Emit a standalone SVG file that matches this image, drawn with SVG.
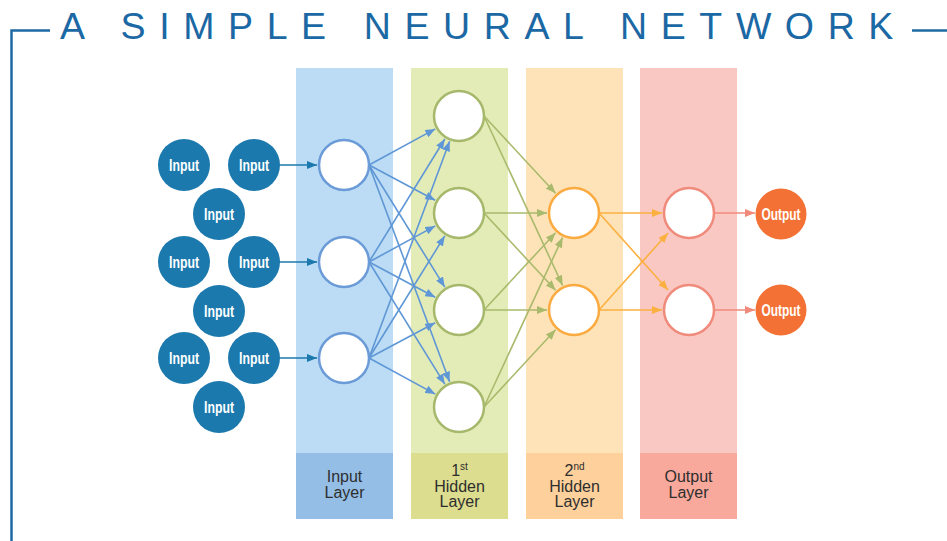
<svg xmlns="http://www.w3.org/2000/svg" width="947" height="541" viewBox="0 0 947 541">
  <style>
    .title { font-family: "Liberation Sans", Arial, sans-serif; font-size: 37.5px; fill: #1b68a4; letter-spacing: 13.6px; }
    .frame { fill: none; stroke: #1f6aa5; stroke-width: 2.5; }
    .lbl { font-family: "Liberation Sans", Arial, sans-serif; font-size: 16px; fill: #2e2e2e; text-anchor: middle; }
    .sup { font-size: 10px; }
    .in { fill: #1b79ad; }
    .out { fill: #f37134; }
    .badge { font-family: "Liberation Sans", Arial, sans-serif; font-size: 16px; font-weight: bold; fill: #ffffff; text-anchor: middle; }
    .n { fill: #ffffff; stroke-width: 2.5; }
    .n-in { stroke: #6a9bd8; }
    .n-h1 { stroke: #a6b86b; }
    .n-h2 { stroke: #fbaa3f; }
    .n-out { stroke: #f08a7b; }
    .c { fill: none; stroke-width: 1.6; }
    .c-src { stroke: #1b79ad; marker-end: url(#ah-src); }
    .c-in { stroke: #5f97d6; marker-end: url(#ah-in); }
    .c-h1 { stroke: #a9ba6c; marker-end: url(#ah-h1); }
    .c-h2 { stroke: #fbb040; marker-end: url(#ah-h2); }
    .c-out { stroke: #f08a7b; marker-end: url(#ah-out); }
  </style>
  <defs>
    <marker id="ah-src" viewBox="0 0 10 8" refX="10" refY="4" markerWidth="10" markerHeight="8" markerUnits="userSpaceOnUse" orient="auto"><path d="M0,0 L10,4 L0,8 z" fill="#1b79ad"/></marker>
    <marker id="ah-in" viewBox="0 0 10 8" refX="10" refY="4" markerWidth="10" markerHeight="8" markerUnits="userSpaceOnUse" orient="auto"><path d="M0,0 L10,4 L0,8 z" fill="#5f97d6"/></marker>
    <marker id="ah-h1" viewBox="0 0 10 8" refX="10" refY="4" markerWidth="10" markerHeight="8" markerUnits="userSpaceOnUse" orient="auto"><path d="M0,0 L10,4 L0,8 z" fill="#a9ba6c"/></marker>
    <marker id="ah-h2" viewBox="0 0 10 8" refX="10" refY="4" markerWidth="10" markerHeight="8" markerUnits="userSpaceOnUse" orient="auto"><path d="M0,0 L10,4 L0,8 z" fill="#fbb040"/></marker>
    <marker id="ah-out" viewBox="0 0 10 8" refX="10" refY="4" markerWidth="10" markerHeight="8" markerUnits="userSpaceOnUse" orient="auto"><path d="M0,0 L10,4 L0,8 z" fill="#f08a7b"/></marker>
  </defs>

  <rect width="947" height="541" fill="#ffffff"/>

  <!-- heading and frame -->
  <g id="heading">
    <path class="frame" d="M50,30.5 H11.5 V541"/>
    <path class="frame" d="M912,30.5 H947"/>
    <text class="title" x="60" y="39">A SIMPLE NEURAL NETWORK</text>
  </g>

  <!-- layer columns -->
  <g id="layer-input">
    <rect x="296" y="68" width="97" height="385" fill="#bbdcf4"/>
    <rect x="296" y="453" width="97" height="66" fill="#94bee6"/>
    <text class="lbl" x="344.5" y="482">Input</text>
    <text class="lbl" x="344.5" y="498">Layer</text>
  </g>
  <g id="layer-hidden1">
    <rect x="411" y="68" width="97" height="385" fill="#e3ecb7"/>
    <rect x="411" y="453" width="97" height="66" fill="#dcdd8e"/>
    <text class="lbl" x="459.5" y="475.5">1<tspan class="sup" dy="-6">st</tspan></text>
    <text class="lbl" x="459.5" y="491.5">Hidden</text>
    <text class="lbl" x="459.5" y="507">Layer</text>
  </g>
  <g id="layer-hidden2">
    <rect x="526" y="68" width="97" height="385" fill="#fee3b8"/>
    <rect x="526" y="453" width="97" height="66" fill="#fed09b"/>
    <text class="lbl" x="574.5" y="475.5">2<tspan class="sup" dy="-6">nd</tspan></text>
    <text class="lbl" x="574.5" y="491.5">Hidden</text>
    <text class="lbl" x="574.5" y="507">Layer</text>
  </g>
  <g id="layer-output">
    <rect x="640" y="68" width="97" height="385" fill="#f9c8c3"/>
    <rect x="640" y="453" width="97" height="66" fill="#f8a99c"/>
    <text class="lbl" x="688.5" y="482">Output</text>
    <text class="lbl" x="688.5" y="498">Layer</text>
  </g>

  <!-- connectors -->
  <g id="connectors">
    <line class="c c-src" x1="279" y1="165" x2="317" y2="165"/>
    <line class="c c-src" x1="279" y1="262" x2="317" y2="262"/>
    <line class="c c-src" x1="279" y1="358" x2="317" y2="358"/>

    <line class="c c-in" x1="369" y1="165" x2="435.3" y2="128.9"/>
    <line class="c c-in" x1="369" y1="165" x2="435.2" y2="200.3"/>
    <line class="c c-in" x1="369" y1="165" x2="444.8" y2="287.1"/>
    <line class="c c-in" x1="369" y1="165" x2="449.6" y2="381.7"/>
    <line class="c c-in" x1="369" y1="262" x2="444.8" y2="139.0"/>
    <line class="c c-in" x1="369" y1="262" x2="435.3" y2="225.9"/>
    <line class="c c-in" x1="369" y1="262" x2="435.2" y2="297.3"/>
    <line class="c c-in" x1="369" y1="262" x2="444.8" y2="384.1"/>
    <line class="c c-in" x1="369" y1="358" x2="449.6" y2="141.3"/>
    <line class="c c-in" x1="369" y1="358" x2="444.8" y2="235.9"/>
    <line class="c c-in" x1="369" y1="358" x2="435.2" y2="322.7"/>
    <line class="c c-in" x1="369" y1="358" x2="435.3" y2="394.1"/>

    <line class="c c-h1" x1="484" y1="116" x2="555.6" y2="193.2"/>
    <line class="c c-h1" x1="484" y1="116" x2="562.6" y2="285.5"/>
    <line class="c c-h1" x1="484" y1="213" x2="547" y2="213"/>
    <line class="c c-h1" x1="484" y1="213" x2="555.6" y2="290.2"/>
    <line class="c c-h1" x1="484" y1="310" x2="555.6" y2="232.8"/>
    <line class="c c-h1" x1="484" y1="310" x2="547" y2="310"/>
    <line class="c c-h1" x1="484" y1="407" x2="562.6" y2="237.5"/>
    <line class="c c-h1" x1="484" y1="407" x2="555.6" y2="329.8"/>

    <line class="c c-h2" x1="599" y1="213" x2="662" y2="213"/>
    <line class="c c-h2" x1="599" y1="213" x2="668" y2="290"/>
    <line class="c c-h2" x1="599" y1="310" x2="668" y2="233"/>
    <line class="c c-h2" x1="599" y1="310" x2="662" y2="310"/>

    <line class="c c-out" x1="715" y1="213" x2="755" y2="213"/>
    <line class="c c-out" x1="715" y1="310" x2="755" y2="310"/>
  </g>

  <!-- source badges -->
  <g id="src-1"><circle class="in" cx="184" cy="165" r="26"/><text class="badge" x="184" y="170.5" textLength="30" lengthAdjust="spacingAndGlyphs">Input</text></g>
  <g id="src-2"><circle class="in" cx="254" cy="165" r="26"/><text class="badge" x="254" y="170.5" textLength="30" lengthAdjust="spacingAndGlyphs">Input</text></g>
  <g id="src-3"><circle class="in" cx="219" cy="214" r="26"/><text class="badge" x="219" y="219.5" textLength="30" lengthAdjust="spacingAndGlyphs">Input</text></g>
  <g id="src-4"><circle class="in" cx="184" cy="262" r="26"/><text class="badge" x="184" y="267.5" textLength="30" lengthAdjust="spacingAndGlyphs">Input</text></g>
  <g id="src-5"><circle class="in" cx="254" cy="262" r="26"/><text class="badge" x="254" y="267.5" textLength="30" lengthAdjust="spacingAndGlyphs">Input</text></g>
  <g id="src-6"><circle class="in" cx="219" cy="311" r="26"/><text class="badge" x="219" y="316.5" textLength="30" lengthAdjust="spacingAndGlyphs">Input</text></g>
  <g id="src-7"><circle class="in" cx="184" cy="358" r="26"/><text class="badge" x="184" y="363.5" textLength="30" lengthAdjust="spacingAndGlyphs">Input</text></g>
  <g id="src-8"><circle class="in" cx="254" cy="358" r="26"/><text class="badge" x="254" y="363.5" textLength="30" lengthAdjust="spacingAndGlyphs">Input</text></g>
  <g id="src-9"><circle class="in" cx="219" cy="407" r="26"/><text class="badge" x="219" y="412.5" textLength="30" lengthAdjust="spacingAndGlyphs">Input</text></g>

  <!-- input layer neurons -->
  <g id="in-1"><circle class="n n-in" cx="344" cy="165" r="25"/></g>
  <g id="in-2"><circle class="n n-in" cx="344" cy="262" r="25"/></g>
  <g id="in-3"><circle class="n n-in" cx="344" cy="358" r="25"/></g>

  <!-- first hidden layer neurons -->
  <g id="h1-1"><circle class="n n-h1" cx="459" cy="116" r="25"/></g>
  <g id="h1-2"><circle class="n n-h1" cx="459" cy="213" r="25"/></g>
  <g id="h1-3"><circle class="n n-h1" cx="459" cy="310" r="25"/></g>
  <g id="h1-4"><circle class="n n-h1" cx="459" cy="407" r="25"/></g>

  <!-- second hidden layer neurons -->
  <g id="h2-1"><circle class="n n-h2" cx="574" cy="213" r="25"/></g>
  <g id="h2-2"><circle class="n n-h2" cx="574" cy="310" r="25"/></g>

  <!-- output layer neurons -->
  <g id="out-1"><circle class="n n-out" cx="689" cy="213" r="25"/></g>
  <g id="out-2"><circle class="n n-out" cx="689" cy="310" r="25"/></g>

  <!-- result badges -->
  <g id="res-1"><circle class="out" cx="781" cy="214" r="25.5"/><text class="badge" x="781" y="219.5" textLength="39" lengthAdjust="spacingAndGlyphs">Output</text></g>
  <g id="res-2"><circle class="out" cx="781" cy="310" r="25.5"/><text class="badge" x="781" y="315.5" textLength="39" lengthAdjust="spacingAndGlyphs">Output</text></g>
</svg>
